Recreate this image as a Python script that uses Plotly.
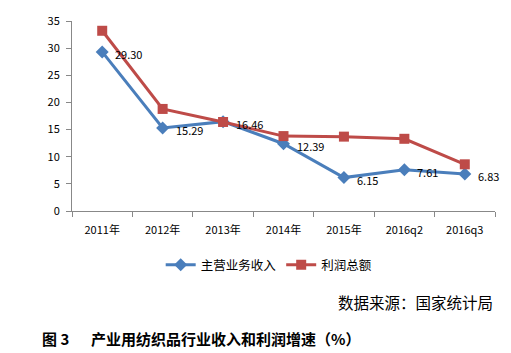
import plotly.graph_objects as go

categories = ["2011年", "2012年", "2013年", "2014年", "2015年", "2016q2", "2016q3"]
revenue = [29.30, 15.29, 16.46, 12.39, 6.15, 7.61, 6.83]
profit = [33.2, 18.8, 16.4, 13.8, 13.7, 13.3, 8.6]
revenue_labels = ["29.30", "15.29", "16.46", "12.39", "6.15", "7.61", "6.83"]
yticks = [0, 5, 10, 15, 20, 25, 30, 35]

FONT = "Noto Sans CJK SC"
BLUE = "#4A7EBB"
RED = "#BE4B48"

fig = go.Figure()
fig.add_trace(go.Scatter(
    x=categories, y=revenue, name="主营业务收入", mode="lines+markers",
    line=dict(color=BLUE, width=3),
    marker=dict(symbol="diamond", size=10, color=BLUE),
))
fig.add_trace(go.Scatter(
    x=categories, y=profit, name="利润总额", mode="lines+markers",
    line=dict(color=RED, width=3),
    marker=dict(symbol="square", size=10, color=RED),
))

annotations = [
    dict(x=c, y=v, xref="x", yref="y", text=t, showarrow=False,
         xanchor="left", yanchor="middle", xshift=11, yshift=-2,
         font=dict(family=FONT, size=11, color="#000000"))
    for c, v, t in zip(categories, revenue, revenue_labels)
]
annotations += [
    dict(text="数据来源：国家统计局", xref="paper", yref="paper", x=1.0, y=-0.48,
         xanchor="right", yanchor="middle", showarrow=False,
         font=dict(family=FONT, size=15.5, color="#000000")),
    dict(text="<b>图 3　  产业用纺织品行业收入和利润增速（%）</b>", xref="paper", yref="paper",
         x=-0.075, y=-0.67, xanchor="left", yanchor="middle", showarrow=False,
         font=dict(family=FONT, size=15, color="#000000")),
]

fig.update_layout(
    width=511, height=353,
    margin=dict(l=72, r=16, t=14, b=142),
    paper_bgcolor="white", plot_bgcolor="white",
    font=dict(family=FONT, size=11, color="#000000"),
    showlegend=True,
    legend=dict(orientation="h", x=0.465, xanchor="center", y=-0.285, yanchor="middle",
                font=dict(family=FONT, size=12.5), traceorder="normal"),
    xaxis=dict(
        type="category", range=[-0.5, 6.5], showline=True, linecolor="#888888",
        ticks="outside", tickson="boundaries", ticklen=5, tickcolor="#888888",
        showgrid=False, tickfont=dict(family=FONT, size=11), ticklabelstandoff=9,
    ),
    yaxis=dict(
        range=[0, 35], tickvals=yticks, showline=True, linecolor="#888888",
        ticks="outside", ticklen=5, tickcolor="#888888", showgrid=False,
        zeroline=False, tickfont=dict(family=FONT, size=11), ticklabelstandoff=4,
    ),
    annotations=annotations,
)

fig.write_html("out.html")
